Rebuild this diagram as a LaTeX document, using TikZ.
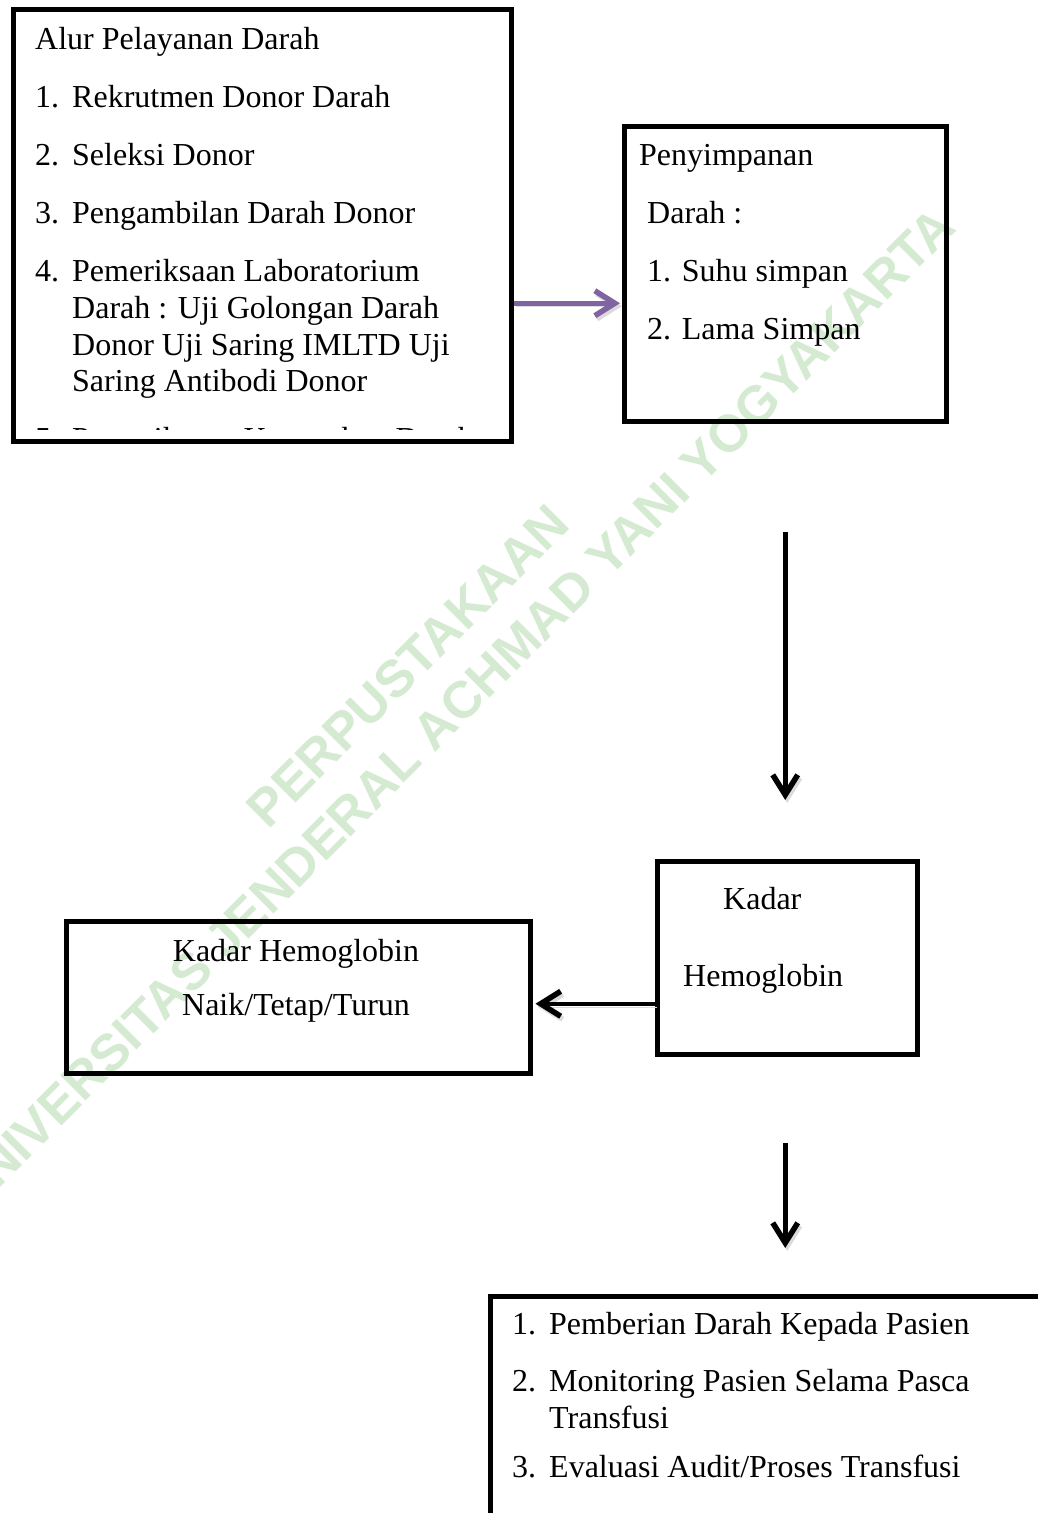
\documentclass[tikz,border=0pt]{standalone}
\usepackage{fontspec}
\setmainfont{Liberation Serif}
\setsansfont{Liberation Sans}
\usetikzlibrary{arrows.meta,calc}
\definecolor{purp}{HTML}{8064A2}
\definecolor{wmgreen}{HTML}{D4EBD2}
\tikzset{box/.style={draw=black,line width=4.5pt,inner sep=0pt,anchor=north west},
  txt/.style={inner sep=0pt,anchor=base west,font=\fontsize{32}{37}\selectfont},
  arr/.style={line width=4.5pt,-{Straight Barb[length=20pt,width=25pt,line width=1pt 1]},preaction={draw=black!14,transform canvas={xshift=2pt,yshift=-3pt}}},
  parr/.style={arr,draw=purp}}
\begin{document}
\begin{tikzpicture}[x=1pt,y=-1pt]
\clip (0,0) rectangle (1038,1513);
\fill[white] (0,0) rectangle (1038,1513);
% watermark
\node[rotate=45,text=wmgreen,font=\sffamily\bfseries\fontsize{52}{63}\selectfont,align=center,inner sep=0pt] (wmark) at (430,688) {PERPUSTAKAAN\\UNIVERSITAS JENDERAL ACHMAD YANI YOGYAKARTA};
% boxes
\node[box,minimum width=498pt,minimum height=432pt] (boxA) at (11,7) {};
\node[box,minimum width=322pt,minimum height=295pt] (boxB) at (622,124) {};
\node[box,minimum width=260pt,minimum height=193pt] (boxC) at (655,859) {};
\node[box,minimum width=464pt,minimum height=152pt] (boxD) at (64,919) {};
\node[box,minimum width=620pt,minimum height=300pt] (boxE) at (488,1294) {};
% Alur Pelayanan Darah
\node[txt] (a0) at (35,49) {Alur Pelayanan Darah};
\node[txt] (a1n) at (35,107) {1.};
\node[txt] (a1) at (72,107) {Rekrutmen Donor Darah};
\node[txt] (a2n) at (35,165) {2.};
\node[txt] (a2) at (72,165) {Seleksi Donor};
\node[txt] (a3n) at (35,223) {3.};
\node[txt] (a3) at (72,223) {Pengambilan Darah Donor};
\node[txt] (a4n) at (35,281) {4.};
\node[txt] (a4) at (72,281) {Pemeriksaan Laboratorium};
\node[txt] (a4b) at (72,318) {Darah : Uji Golongan Darah};
\node[txt] (a4c) at (72,355) {Donor Uji Saring IMLTD Uji};
\node[txt] (a4d) at (72,391) {Saring Antibodi Donor};
\begin{scope}
\clip (14,400) rectangle (505,429);
\node[txt] (a5n) at (35,449) {5.};
\node[txt] (a5) at (72,449) {Pemeriksaan Kecocokan Darah};
\end{scope}
% Penyimpanan
\node[txt] (b0) at (639,165) {Penyimpanan};
\node[txt] (b1) at (647,223) {Darah :};
\node[txt] (b2) at (647,281) {1. Suhu simpan};
\node[txt] (b3) at (647,339) {2. Lama Simpan};
% Kadar Hemoglobin
\node[txt] (c0) at (723,909) {Kadar};
\node[txt] (c1) at (683,986) {Hemoglobin};
\node[txt,anchor=base] (d0) at (296,961) {Kadar Hemoglobin};
\node[txt,anchor=base] (d1) at (296,1015) {Naik/Tetap/Turun};
% Pemberian
\node[txt] (e1n) at (512,1334) {1.};
\node[txt] (e1) at (549,1334) {Pemberian Darah Kepada Pasien};
\node[txt] (e2n) at (512,1391) {2.};
\node[txt] (e2) at (549,1391) {Monitoring Pasien Selama Pasca};
\node[txt] (e2b) at (549,1428) {Transfusi};
\node[txt] (e3n) at (512,1477) {3.};
\node[txt] (e3) at (549,1477) {Evaluasi Audit/Proses Transfusi};
% arrows
\draw[parr] ([yshift=-78pt]boxA.east) coordinate (p) -- ([xshift=-2pt]p -| boxB.west);
\draw[arr] ([yshift=-108pt]boxB.south) coordinate (s) -- ([yshift=59pt]boxC.north -| s);
\draw[arr] ([yshift=-46pt]boxC.west) coordinate (h) -- ([xshift=3pt]h -| boxD.east);
\draw[arr] ([yshift=-86pt]boxC.south -| s) coordinate (v) -- ([yshift=46pt]boxE.north -| v);
\end{tikzpicture}
\end{document}
